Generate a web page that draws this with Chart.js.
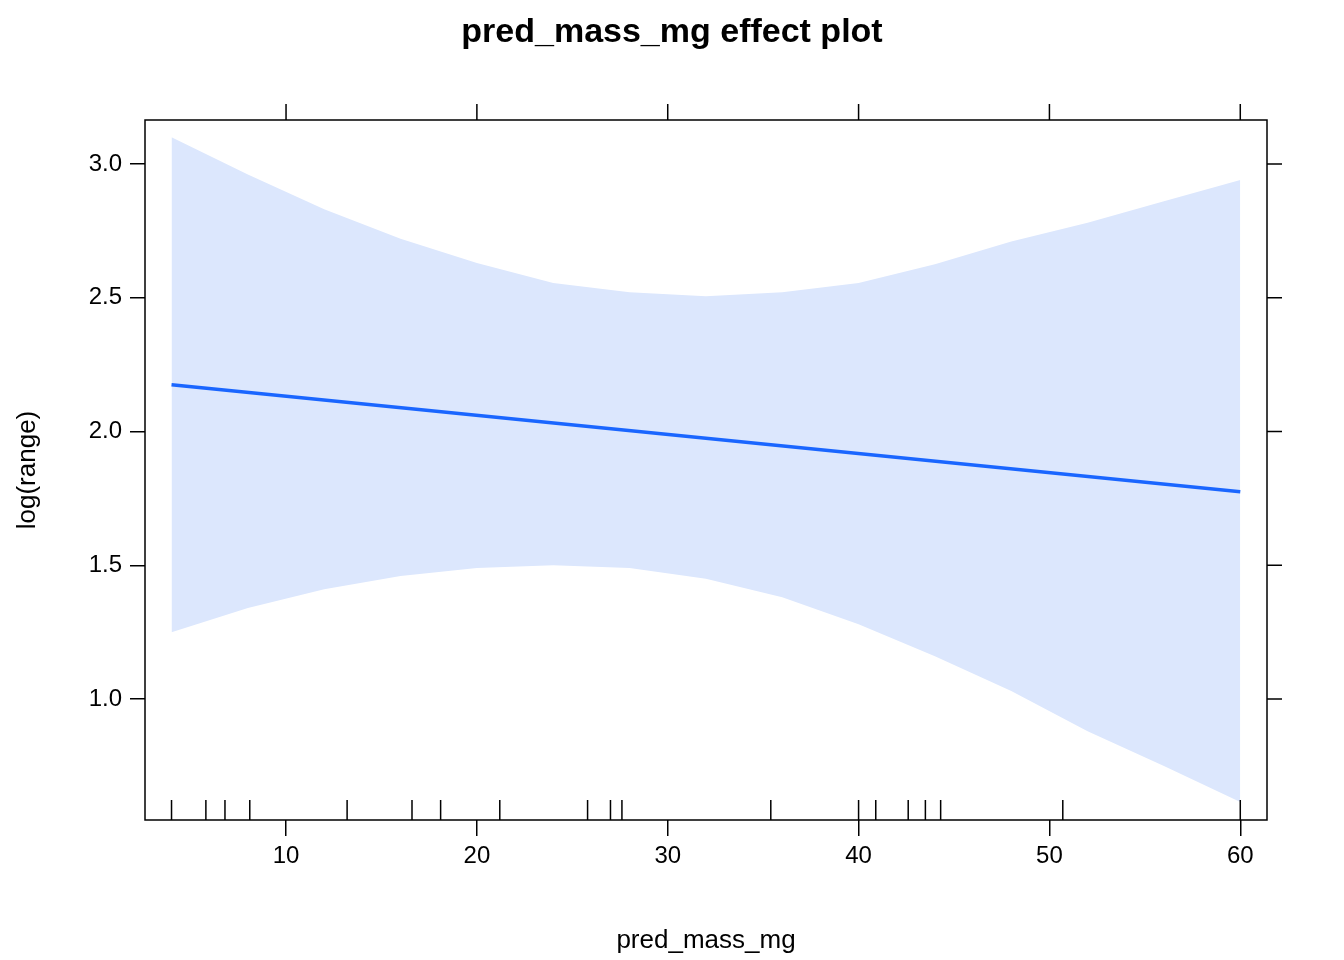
<!DOCTYPE html>
<html>
<head>
<meta charset="utf-8">
<script src="https://cdn.jsdelivr.net/npm/chart.js@4"></script>
<style>
  html, body { margin: 0; background: #fff; }
  #wrap { width: 1344px; height: 960px; }
</style>
</head>
<body>
<div id="wrap"><canvas id="c"></canvas></div>
<script>
const bandX = [4, 8, 12, 16, 20, 24, 28, 32, 36, 40, 44, 48, 52, 56, 60];
const upper = [3.10, 2.96, 2.83, 2.72, 2.63, 2.555, 2.52, 2.505, 2.52, 2.555, 2.625, 2.71, 2.78, 2.86, 2.94];
const lower = [1.25, 1.34, 1.41, 1.46, 1.49, 1.50, 1.49, 1.45, 1.38, 1.28, 1.16, 1.03, 0.88, 0.75, 0.615];
const fitX = [4, 60];
const fitY = [2.175, 1.775];
const rugX = [4, 5.8, 6.8, 8.1, 13.2, 16.6, 18.1, 21.2, 25.8, 27, 27.6, 35.4, 40, 40.9, 42.6, 43.5, 44.3, 50.7, 60];
const xTicks = [10, 20, 30, 40, 50, 60];
const yTicks = [1.0, 1.5, 2.0, 2.5, 3.0];

const pts = (xs, ys) => xs.map((x, i) => ({ x: x, y: ys[i] }));
const FONT = "Liberation Sans, Arial, sans-serif";

const frame = {
  id: "frame",
  afterDraw(chart) {
    const { ctx, chartArea: a, scales } = chart;
    ctx.save();
    ctx.strokeStyle = "#000";
    ctx.lineWidth = 1.5;
    ctx.strokeRect(a.left, a.top, a.right - a.left, a.bottom - a.top);
    ctx.beginPath();
    xTicks.forEach(v => {
      const px = scales.x.getPixelForValue(v);
      ctx.moveTo(px, a.top); ctx.lineTo(px, a.top - 16);
    });
    yTicks.forEach(v => {
      const py = scales.y.getPixelForValue(v);
      ctx.moveTo(a.right, py); ctx.lineTo(a.right + 15, py);
    });
    rugX.forEach(v => {
      const px = scales.x.getPixelForValue(v);
      ctx.moveTo(px, a.bottom); ctx.lineTo(px, a.bottom - 20);
    });
    ctx.stroke();
    ctx.fillStyle = "#000";
    ctx.font = "bold 34px " + FONT;
    ctx.textAlign = "center";
    ctx.textBaseline = "middle";
    ctx.fillText("pred_mass_mg effect plot", 672, 33);
    ctx.restore();
  }
};

new Chart(document.getElementById("c"), {
  type: "line",
  data: {
    datasets: [
      { data: pts(bandX, lower), order: 2, borderWidth: 0, pointRadius: 0, fill: false, backgroundColor: "#dce7fd" },
      { data: pts(bandX, upper), order: 2, borderWidth: 0, pointRadius: 0, fill: "-1", backgroundColor: "#dce7fd" },
      { data: pts(fitX, fitY), order: 0, borderColor: "#1a66ff", borderWidth: 3.5, pointRadius: 0, fill: false }
    ]
  },
  options: {
    responsive: true,
    maintainAspectRatio: false,
    animation: false,
    layout: { padding: { top: 120, right: 77, left: 8, bottom: 0 } },
    plugins: { legend: { display: false }, tooltip: { enabled: false } },
    scales: {
      x: {
        type: "linear", min: 2.61, max: 61.4,
        afterBuildTicks: s => { s.ticks = xTicks.map(v => ({ value: v })); },
        afterFit: s => { s.height = 140; },
        grid: { drawOnChartArea: false, drawTicks: true, tickLength: 16, color: "#000", lineWidth: 1.5 },
        border: { display: false },
        ticks: { color: "#000", font: { size: 24, family: FONT }, padding: 6, maxRotation: 0 },
        title: { display: true, text: "pred_mass_mg", color: "#000", font: { size: 26, family: FONT }, padding: { top: 0 } }
      },
      y: {
        min: 0.548, max: 3.164,
        afterBuildTicks: s => { s.ticks = yTicks.map(v => ({ value: v })); },
        afterFit: s => { s.width = 137; },
        grid: { drawOnChartArea: false, drawTicks: true, tickLength: 15, color: "#000", lineWidth: 1.5 },
        border: { display: false },
        ticks: { color: "#000", font: { size: 24, family: FONT }, padding: 8, callback: v => v.toFixed(1) },
        title: { display: true, text: "log(range)", color: "#000", font: { size: 26, family: FONT }, padding: { bottom: 6 } }
      }
    }
  },
  plugins: [frame]
});
</script>
</body>
</html>
